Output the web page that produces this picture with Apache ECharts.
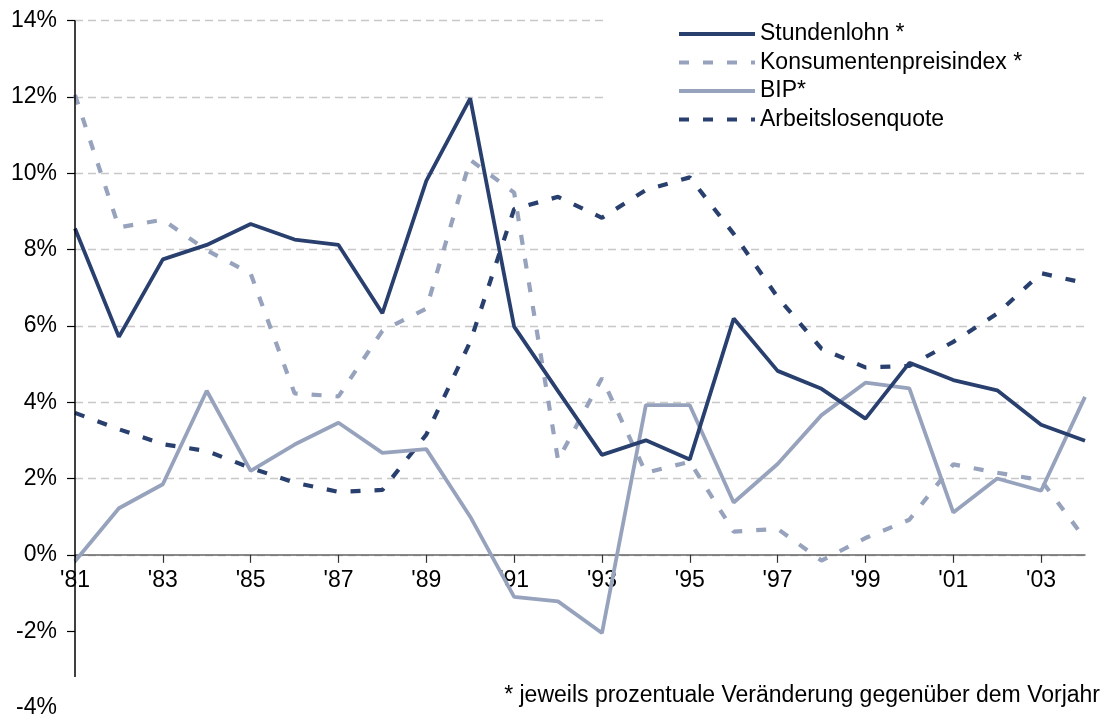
<!DOCTYPE html>
<html>
<head>
<meta charset="utf-8">
<script src="https://cdn.jsdelivr.net/npm/echarts@6/dist/echarts.min.js"></script>
<style>
html,body{margin:0;padding:0;background:#fff;}
#chart{width:1106px;height:715px;}
</style>
</head>
<body>
<div id="chart"></div>
<script>
var years = ["'81","'82","'83","'84","'85","'86","'87","'88","'89","'90","'91","'92","'93","'94","'95","'96","'97","'98","'99","'00","'01","'02","'03","'04"];
var stundenlohn = [8.55,5.71,7.74,8.12,8.67,8.26,8.12,6.33,9.80,11.96,5.98,4.29,2.62,3.00,2.50,6.19,4.82,4.35,3.57,5.03,4.58,4.31,3.41,2.99];
var kpi = [12.05,8.58,8.78,7.98,7.37,4.23,4.15,5.87,6.45,10.35,9.49,2.48,4.63,2.15,2.44,0.61,0.68,-0.15,0.44,0.92,2.37,2.15,1.96,0.42];
var bip = [-0.17,1.22,1.85,4.30,2.20,2.89,3.46,2.67,2.77,1.00,-1.10,-1.22,-2.05,3.92,3.92,1.37,2.38,3.66,4.51,4.36,1.11,2.00,1.68,4.14];
var alq = [3.72,3.29,2.90,2.72,2.28,1.89,1.65,1.70,3.15,5.58,9.06,9.38,8.83,9.56,9.89,8.41,6.75,5.40,4.91,4.95,5.58,6.32,7.38,7.12];
var names = ['Stundenlohn *','Konsumentenpreisindex *','BIP*','Arbeitslosenquote'];
var footnote = '* jeweils prozentuale Veränderung gegenüber dem Vorjahr';
var yTicks = [-4,-2,0,2,4,6,8,10,12,14];

var DARK = '#29406f', LIGHT = '#97a3bd';
var FONT = 'Liberation Sans, Arial, sans-serif';
var FS = 23;
var GRID_TOP = 20.5, GRID_BOTTOM = 7.5, H = 715;
var yMin = yTicks[0], yMax = yTicks[yTicks.length - 1];
// offset of the category axis so that it sits on the 0% line
var plotH = H - GRID_TOP - GRID_BOTTOM;
var zeroOffset = -plotH * (0 - yMin) / (yMax - yMin);

var chart = echarts.init(document.getElementById('chart'), null, {renderer:'canvas'});
chart.setOption({
  animation: false,
  backgroundColor: '#fff',
  title: {
    text: footnote, right: 6, top: 684, padding: 0,
    textStyle: {fontFamily: FONT, fontSize: FS, fontWeight: 'normal', color: '#000'}
  },
  legend: {
    orient: 'vertical', left: 605, top: 13,
    padding: [9, 120, 5, 72],
    backgroundColor: '#fff',
    itemWidth: 76, itemHeight: 14, itemGap: 4.5,
    itemStyle: {color: 'rgba(0,0,0,0)', borderWidth: 0, opacity: 0},
    lineStyle: {width: 4},
    textStyle: {fontFamily: FONT, fontSize: FS, color: '#000', lineHeight: 24},
    data: names
  },
  grid: {left: 75, right: 21, top: GRID_TOP, bottom: GRID_BOTTOM, containLabel: false, outerBoundsMode: 'none'},
  xAxis: {
    type: 'category', data: years, boundaryGap: false,
    offset: zeroOffset,
    axisLine: {onZero: false, lineStyle: {color: '#666', width: 1.5}},
    axisTick: {interval: 1, length: 8, lineStyle: {color: '#333', width: 1.2}},
    axisLabel: {interval: 1, margin: 14, fontFamily: FONT, fontSize: FS, color: '#000'},
    splitLine: {show: false}
  },
  yAxis: {
    type: 'value', min: yMin, max: yMax, interval: 2,
    axisLine: {show: false},
    axisTick: {show: true, length: 8, lineStyle: {color: '#000', width: 1.2}, customValues: yTicks.slice(1)},
    axisLabel: {margin: 18, fontFamily: FONT, fontSize: FS, color: '#000', formatter: '{value}%'},
    splitLine: {show: true, showMinLine: false, lineStyle: {color: '#c8c8c8', width: 1.3, type: [8, 5]}}
  },
  series: [
    {name: names[3], type: 'line', data: alq, symbol: 'none', z: 2,
     lineStyle: {color: DARK, width: 4.2, type: [10, 14]}, itemStyle: {color: DARK}},
    {name: names[2], type: 'line', data: bip, symbol: 'none', z: 3,
     lineStyle: {color: LIGHT, width: 3.8, type: 'solid'}, itemStyle: {color: LIGHT}},
    {name: names[1], type: 'line', data: kpi, symbol: 'none', z: 2,
     lineStyle: {color: LIGHT, width: 4.2, type: [10, 14]}, itemStyle: {color: LIGHT}},
    {name: names[0], type: 'line', data: stundenlohn, symbol: 'none', z: 4,
     lineStyle: {color: DARK, width: 3.8, type: 'solid'}, itemStyle: {color: DARK},
     markLine: {silent: true, symbol: 'none', label: {show: false},
       lineStyle: {color: '#000', width: 1.5, type: 'solid'},
       data: [[{coord: [years[0], yMax]}, {coord: [years[0], -3.2]}]]}}
  ]
});
</script>
</body>
</html>
